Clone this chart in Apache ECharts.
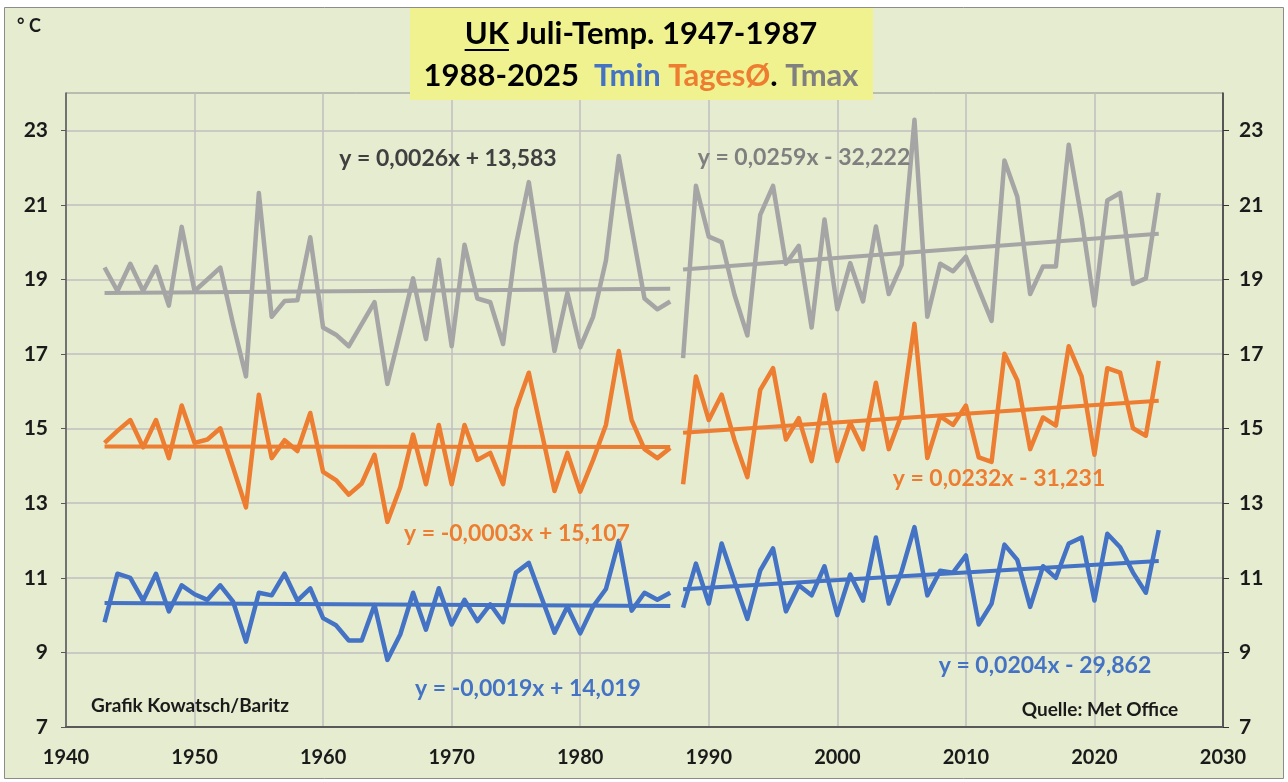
<!DOCTYPE html>
<html>
<head>
<meta charset="utf-8">
<script src="https://cdn.jsdelivr.net/npm/echarts@6/dist/echarts.min.js"></script>
<style>
  html, body { margin: 0; padding: 0; background: #fff; }
  #main { width: 1288px; height: 782px; }
</style>
</head>
<body>
<div id="main"></div>
<script>
// Jahre (Punkte so wie in der Grafik gesetzt)
var years1 = [1943, 1944, 1945, 1946, 1947, 1948, 1949, 1950, 1951, 1952,
  1953, 1954, 1955, 1956, 1957, 1958, 1959, 1960, 1961, 1962,
  1963, 1964, 1965, 1966, 1967, 1968, 1969, 1970, 1971, 1972,
  1973, 1974, 1975, 1976, 1977, 1978, 1979, 1980, 1981, 1982,
  1983, 1984, 1985, 1986, 1987]
var years2 = [1988, 1989, 1990, 1991, 1992, 1993, 1994, 1995, 1996, 1997,
  1998, 1999, 2000, 2001, 2002, 2003, 2004, 2005, 2006, 2007,
  2008, 2009, 2010, 2011, 2012, 2013, 2014, 2015, 2016, 2017,
  2018, 2019, 2020, 2021, 2022, 2023, 2024, 2025]

// Tmax
var tmax1 = [19.32, 18.69, 19.42, 18.69, 19.34, 18.30, 20.41, 18.69, 19.0, 19.32,
  17.8, 16.4, 21.32, 18.0, 18.42, 18.44, 20.13, 17.71, 17.52, 17.21,
  17.8, 18.39, 16.2, 17.6, 19.03, 17.4, 19.53, 17.21, 19.93, 18.49,
  18.39, 17.27, 19.93, 21.61, 19.35, 17.08, 18.64, 17.18, 18.0, 19.51,
  22.31, 20.39, 18.49, 18.2, 18.41]
var tmax2 = [16.89, 21.51, 20.15, 20.0, 18.59, 17.50, 20.73, 21.51, 19.42, 19.90,
  17.71, 20.61, 18.20, 19.44, 18.41, 20.42, 18.61, 19.39, 23.28, 18.0,
  19.42, 19.22, 19.61, 18.74, 17.89, 22.19, 21.22, 18.61, 19.35, 19.35,
  22.61, 20.63, 18.30, 21.12, 21.32, 18.88, 19.03, 21.32]

// Tagesmittel
var tages1 = [14.62, 14.94, 15.23, 14.50, 15.23, 14.21, 15.62, 14.62, 14.71, 15.01,
  13.96, 12.89, 15.91, 14.21, 14.69, 14.40, 15.42, 13.84, 13.62, 13.23,
  13.53, 14.30, 12.50, 13.43, 14.84, 13.51, 15.10, 13.51, 15.10, 14.16,
  14.35, 13.51, 15.52, 16.50, 14.9, 13.33, 14.35, 13.31, 14.16, 15.10,
  17.08, 15.23, 14.45, 14.21, 14.48]
var tages2 = [13.51, 16.40, 15.23, 15.91, 14.69, 13.70, 16.04, 16.62, 14.71, 15.28,
  14.13, 15.91, 14.13, 15.16, 14.45, 16.23, 14.45, 15.38, 17.81, 14.21,
  15.33, 15.10, 15.62, 14.23, 14.11, 17.01, 16.30, 14.45, 15.30, 15.08,
  17.21, 16.40, 14.30, 16.62, 16.50, 15.01, 14.81, 16.82]

// Tmin
var tmin1 = [9.81, 11.11, 11.0, 10.39, 11.11, 10.10, 10.80, 10.56, 10.41, 10.80,
  10.36, 9.29, 10.60, 10.53, 11.11, 10.39, 10.72, 9.92, 9.73, 9.32,
  9.32, 10.27, 8.80, 9.48, 10.60, 9.61, 10.72, 9.75, 10.41, 9.84,
  10.29, 9.81, 11.14, 11.40, 10.46, 9.53, 10.23, 9.51, 10.23, 10.70,
  11.99, 10.12, 10.60, 10.41, 10.60]
var tmin2 = [10.20, 11.38, 10.31, 11.92, 10.90, 9.90, 11.19, 11.79, 10.10, 10.80,
  10.53, 11.31, 10.00, 11.09, 10.39, 12.08, 10.31, 11.17, 12.36, 10.53,
  11.19, 11.14, 11.60, 9.75, 10.31, 11.89, 11.48, 10.22, 11.31, 11.00,
  11.92, 12.08, 10.39, 12.18, 11.82, 11.14, 10.60, 12.28]

// Trendlinien (Steigung, Achsenabschnitt) wie im Bild angegeben
var trendMax1 = [0.0026, 13.583]
var trendMax2 = [0.0259, -32.222]
var trendTag1 = [-0.0003, 15.107]
var trendTag2 = [0.0232, -31.231]
var trendMin1 = [-0.0019, 14.019]
var trendMin2 = [0.0204, -29.862]

var yTicks = [7, 9, 11, 13, 15, 17, 19, 21, 23]

var cBlue = '#4472C4'
var cOrange = '#ED7D31'
var cGray = '#A5A5A5'
var bg = '#E5ECCF'
var font = 'Lato'

function pairs (xs, ys) {
  return xs.map(function (x, i) { return [x, ys[i]] })
}
function trend (xs, t) {
  var a = xs[0], b = xs[xs.length - 1]
  return [[a, t[0] * a + t[1]], [b, t[0] * b + t[1]]]
}
function dataLine (name, xs, ys, color) {
  return { name: name, type: 'line', data: pairs(xs, ys), symbol: 'none',
    lineStyle: { color: color, width: 4.5, join: 'round' }, z: 3, silent: true }
}
function trendLine (name, xs, t, color) {
  return { name: name, type: 'line', data: trend(xs, t), symbol: 'none',
    lineStyle: { color: color, width: 4 }, z: 4, silent: true }
}
function txt (x, y, s, color, size, align) {
  return { type: 'text', x: x, y: y, z: 20,
    style: { text: s, fill: color, font: 'bold ' + size + 'px ' + font,
      align: align || 'center', verticalAlign: 'middle' } }
}

// Breite von "UK" messen fuer die Unterstreichung
var tSize = 31
var ctx = document.createElement('canvas').getContext('2d')
ctx.font = 'bold ' + tSize + 'px ' + font
var ukW = ctx.measureText('UK').width
var line1W = ctx.measureText('UK Juli-Temp. 1947-1987').width
var ukX = 641 - line1W / 2
var tf = 'bold ' + tSize + 'px ' + font

var myChart = echarts.init(document.getElementById('main'))
myChart.setOption({
  backgroundColor: '#fff',
  animation: false,
  grid: { left: 66, right: 65, top: 93, bottom: 55, show: true,
    borderColor: '#8c8c8c', borderWidth: 1 },
  xAxis: {
    type: 'value', min: 1940, max: 2030, interval: 10,
    axisLine: { lineStyle: { color: '#595959', width: 2 } },
    axisTick: { show: false },
    splitLine: { lineStyle: { color: '#BFBFBF', width: 1.5 } },
    axisLabel: { color: '#1a1a1a', fontFamily: font, fontWeight: 'bold', fontSize: 20, margin: 21,
      formatter: function (v) { return String(v) } }
  },
  yAxis: [
    {
      type: 'value', min: 7, max: 24, position: 'left',
      axisLine: { show: true, lineStyle: { color: '#595959', width: 1.5 } },
      axisTick: { show: true, length: 5, customValues: yTicks, lineStyle: { color: '#595959' } },
      splitLine: { lineStyle: { color: '#BFBFBF', width: 1.5 } },
      axisLabel: { customValues: yTicks, color: '#1a1a1a', fontFamily: font, fontWeight: 'bold', fontSize: 21, margin: 18 }
    },
    {
      type: 'value', min: 7, max: 24, position: 'right',
      axisLine: { show: true, lineStyle: { color: '#333', width: 1.5 } },
      axisTick: { show: true, length: 6, customValues: yTicks, lineStyle: { color: '#333' } },
      splitLine: { show: false },
      axisLabel: { customValues: yTicks, color: '#1a1a1a', fontFamily: font, fontWeight: 'bold', fontSize: 21, margin: 16 }
    }
  ],
  series: [
    dataLine('Tmax 1', years1, tmax1, cGray),
    dataLine('Tmax 2', years2, tmax2, cGray),
    dataLine('TagesØ 1', years1, tages1, cOrange),
    dataLine('TagesØ 2', years2, tages2, cOrange),
    dataLine('Tmin 1', years1, tmin1, cBlue),
    dataLine('Tmin 2', years2, tmin2, cBlue),
    trendLine('Trend Tmax 1', years1, trendMax1, cGray),
    trendLine('Trend Tmax 2', years2, trendMax2, cGray),
    trendLine('Trend TagesØ 1', years1, trendTag1, cOrange),
    trendLine('Trend TagesØ 2', years2, trendTag2, cOrange),
    trendLine('Trend Tmin 1', years1, trendMin1, cBlue),
    trendLine('Trend Tmin 2', years2, trendMin2, cBlue)
  ],
  graphic: [
    { type: 'rect', z: -10, shape: { x: 4.5, y: 7.5, width: 1279, height: 771 },
      style: { fill: bg, stroke: '#8c8c8c', lineWidth: 1 } },
    { type: 'rect', z: 10, shape: { x: 410, y: 8, width: 463, height: 92 },
      style: { fill: '#EFF28E' } },
    { type: 'text', x: 641, y: 34, z: 20,
      style: { text: 'UK Juli-Temp. 1947-1987', fill: '#000', font: tf,
        align: 'center', verticalAlign: 'middle' } },
    { type: 'line', z: 20, shape: { x1: ukX, y1: 50, x2: ukX + ukW, y2: 50 },
      style: { stroke: '#000', lineWidth: 2 } },
    { type: 'text', x: 641, y: 76, z: 20,
      style: {
        text: '{k|1988-2025  }{b|Tmin }{o|TagesØ}{k|. }{g|Tmax}',
        align: 'center', verticalAlign: 'middle',
        rich: {
          k: { fill: '#000', font: tf },
          b: { fill: cBlue, font: tf },
          o: { fill: cOrange, font: tf },
          g: { fill: '#808080', font: tf }
        }
      } },
    txt(29, 26, '° C', '#1a1a1a', 18),
    txt(448, 159, 'y = 0,0026x + 13,583', '#404040', 23),
    txt(804, 158, 'y = 0,0259x - 32,222', '#7F7F7F', 23),
    txt(517, 534, 'y = -0,0003x + 15,107', cOrange, 23),
    txt(999, 479, 'y = 0,0232x - 31,231', cOrange, 23),
    txt(528, 689, 'y = -0,0019x + 14,019', cBlue, 23),
    txt(1045, 666, 'y = 0,0204x - 29,862', cBlue, 23),
    txt(190, 706, 'Grafik Kowatsch/Baritz', '#1a1a1a', 19),
    txt(1100, 710, 'Quelle: Met Office', '#1a1a1a', 19)
  ]
})
</script>
</body>
</html>
